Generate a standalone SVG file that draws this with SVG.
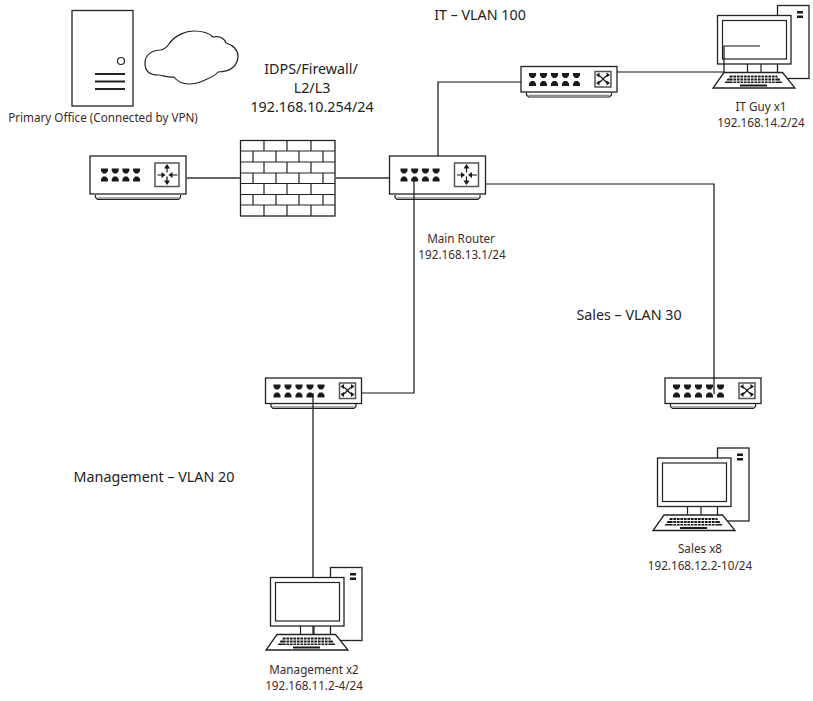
<svg xmlns="http://www.w3.org/2000/svg" xmlns:xlink="http://www.w3.org/1999/xlink" width="813" height="701" viewBox="0 0 813 701">
<style>
text{font-family:"Noto Sans","Open Sans",sans-serif;text-anchor:middle}
.h{font-size:14.3px;fill:#222}
.s{font-size:11.7px;fill:#3d2b2b}
.o{fill:#fff;stroke:#222;stroke-width:1.3}
.n{fill:none;stroke:#222;stroke-width:1.2}
.c{fill:none;stroke:#111;stroke-width:1.2}
.g{fill:none;stroke:#666;stroke-width:2}
.k{fill:#1a1a1a;stroke:none}
.a{fill:none;stroke:#111;stroke-width:1.200}
</style>
<defs>
<path id="port" class="k" d="M0 0h7v2.500l-2 2.500h-3l-2-2.500zM0 13v-2.500l2-2.500h3l2 2.500v2.500z"/>
<g id="router">
<rect class="o" x="0.5" y="0.5" width="96" height="38"/>
<path class="n" d="M6 39.500v2.500l2 2h81l2-2v-2.500" stroke-width="1"/>
<path d="M8 42.500h81" stroke="#888" stroke-width="1.500"/>
<use href="#port" x="11.500" y="13"/><use href="#port" x="22.200" y="13"/><use href="#port" x="32.900" y="13"/><use href="#port" x="43.600" y="13"/>
<rect x="65.500" y="7.500" width="24" height="23.500" fill="#fff" stroke="#555" stroke-width="1.500"/>
<path class="a" d="M77.500 10v7M77.500 28v-7M68 19.500h6M88 19.500h-6"/>
<path class="k" d="M77.500 8.500l-3 4.500h6zM77.500 29.500l-3-4.500h6zM76 19.500l-4-3v6zM79 19.500l4-3v6z"/>
</g>
<g id="switch">
<rect class="o" x="0.5" y="0.500" width="96" height="25.500"/>
<path class="n" d="M6 26.500v2.500l2 2h81l2-2v-2.500" stroke-width="1"/>
<path d="M8 29.500h81" stroke="#888" stroke-width="1.500"/>
<use href="#port" x="8.500" y="7"/><use href="#port" x="19.500" y="7"/><use href="#port" x="30.500" y="7"/><use href="#port" x="41.500" y="7"/><use href="#port" x="52.500" y="7"/>
<rect x="74.500" y="5.500" width="16" height="15.500" fill="#fff" stroke="#555" stroke-width="1.500"/>
<path class="a" d="M76.500 9c5 0 7 8 12 8M76.500 17c5 0 7-8 12-8"/>
<path class="k" d="M89.500 9l-3.500-2.500v5zM89.500 17l-3.500-2.500v5zM75.500 9l3.500-2.500v5zM75.500 17l3.500-2.500v5z"/>
</g>
<g id="pc">
<rect class="o" x="60.500" y="5.500" width="31.500" height="73"/>
<rect class="k" x="80" y="11" width="6" height="2.500"/><rect class="k" x="80" y="15.500" width="6" height="2.500"/>
<rect class="o" x="0.500" y="15.500" width="73.500" height="48.500" stroke="#444" stroke-width="1.600"/>
<rect class="n" x="5.500" y="20.500" width="64" height="38.500" stroke-width="1.400"/>
<path class="n" d="M30.500 64v8M44 64v8"/>
<path class="o" d="M7 72.500h58.500l12.500 15.500h-82z"/>
<path class="k" d="M13 75.500h47l1 2h-49zM10.500 78.500h52l1 2h-54zM8.500 81.500h56l1 1.500h-58z"/>
<rect class="k" x="23" y="84.500" width="27" height="2"/>
<path d="M16 75v8M19.500 75v8M23 75v8M26.500 75v8M30 75v8M33.500 75v8M37 75v8M40.500 75v8M44 75v8M47.500 75v8M51 75v8M54.500 75v8M58 75v8" stroke="#fff" stroke-width="0.800" fill="none"/>
</g>
</defs>

<g id="primary-office">
<rect class="o" x="72" y="10.500" width="61" height="95.500"/>
<circle class="n" cx="121" cy="61" r="3.500"/>
<path d="M95 74h30M95 81.500h30M95 89h30" stroke="#222" stroke-width="2" fill="none"/>
<text class="s" x="103" y="122">Primary Office (Connected by VPN)</text>
</g>
<g id="cloud">
<path class="n" d="M145 63C145 54 153 50 161 50C165 49 167 47 169 44C175 35 186 31 194 31C203 31 209 33 213 37C219 36 224 38 226 43C233 45 238 50 238 56C238 66 230 72 218 72C215 76 210 78 205 80C199 83 194 84 189 84C182 84 177 81 174 77C168 78 163 75 158 75C150 75 145 71 145 63Z"/>
</g>
<g id="firewall">
<rect class="o" x="240.500" y="140.500" width="94.500" height="75.500" stroke-width="1.500"/>
<path class="n" d="M240 151H335M240 162H335M240 173H335M240 183.500H335M240 194.500H335M240 205H335M264 140V151M287 140V151M311 140V151M253 151V162M276 151V162M299 151V162M323 151V162M264 162V173M287 162V173M311 162V173M253 173V183.500M276 173V183.500M299 173V183.500M323 173V183.500M264 183.500V194.500M287 183.500V194.500M311 183.500V194.500M253 194.500V205M276 194.500V205M299 194.500V205M323 194.500V205M264 205V216M287 205V216M311 205V216"/>
</g>
<g id="edge-router"><use href="#router" x="89.500" y="155.500"/></g>
<g id="main-router"><use href="#router" x="389" y="155.500"/>
<text class="s" x="461" y="243">Main Router</text><text class="s" x="462" y="259">192.168.13.1/24</text></g>
<g id="it-switch"><use href="#switch" x="520.500" y="66"/></g>
<g id="mgmt-switch"><use href="#switch" x="265" y="377.500"/></g>
<g id="sales-switch"><use href="#switch" x="664.500" y="377.500"/></g>
<g id="it-pc"><use href="#pc" x="717" y="0"/>
<text class="s" x="761" y="111">IT Guy x1</text><text class="s" x="761" y="127">192.168.14.2/24</text></g>
<g id="sales-pc"><use href="#pc" x="657" y="442.500"/>
<text class="s" x="700" y="553">Sales x8</text><text class="s" x="700" y="570">192.168.12.2-10/24</text></g>
<g id="mgmt-pc"><use href="#pc" x="270" y="562"/>
<text class="s" x="314" y="674">Management x2</text><text class="s" x="314" y="690">192.168.11.2-4/24</text></g>
<g id="labels">
<text class="h" x="311" y="74">IDPS/Firewall/</text>
<text class="h" x="312" y="93">L2/L3</text>
<text class="h" x="312" y="112">192.168.10.254/24</text>
<text class="h" x="480" y="20">IT – VLAN 100</text>
<text class="h" x="629" y="320">Sales – VLAN 30</text>
<text class="h" x="154" y="482">Management – VLAN 20</text>
</g>
<g id="connectors">
<path class="g" d="M186 178H240M335 178H389"/>
<path class="c" d="M438 156V82H521"/>
<path class="c" d="M486 184H714V394"/>
<path class="c" d="M414 181V393H362"/>
<path class="c" d="M313 393V577M313 626V634"/>
<path class="c" d="M617 72H724V46H760"/>
</g>
</svg>
